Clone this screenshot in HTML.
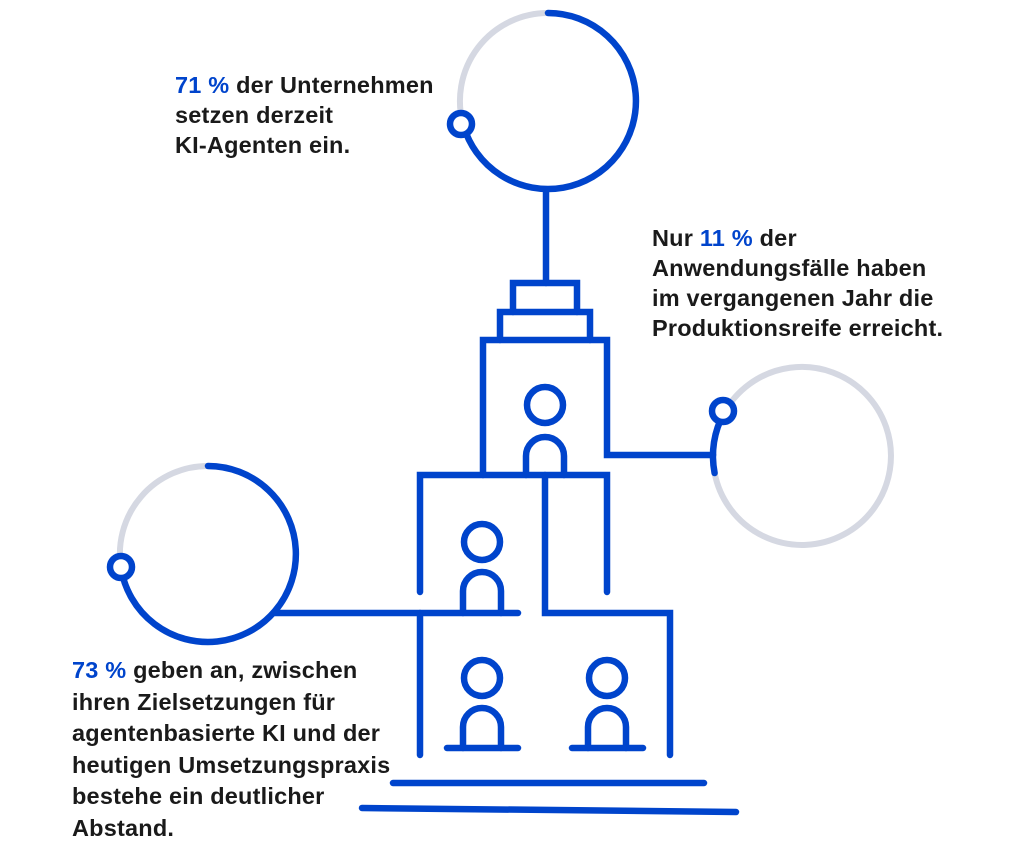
<!DOCTYPE html>
<html><head><meta charset="utf-8"><style>
body{margin:0;background:#fff;width:1024px;height:864px;overflow:hidden;position:relative;font-family:"Liberation Sans",sans-serif;}
.t{position:absolute;font-weight:bold;font-size:23.5px;line-height:30px;color:#1a1a1a;letter-spacing:0.2px;white-space:nowrap;}
.b{color:#0044cc;}
svg{position:absolute;left:0;top:0;}
</style></head><body>
<svg width="1024" height="864" fill="none" stroke-linecap="round" stroke-linejoin="miter">
<g stroke="#d5d8e2" stroke-width="6">
<path d="M463 124 A88 88 0 0 1 548 13"/>
<path d="M121 568 A88 88 0 0 1 208 466"/>
<path d="M724 413 A89 89 0 1 1 714.6 473"/>
</g>
<g stroke="#0044cc" stroke-width="6.5">
<path d="M548 13 A88 88 0 1 1 463 124"/>
<circle cx="461" cy="124" r="11" fill="#fff"/>
<path d="M208 466 A88 88 0 1 1 121 568"/>
<circle cx="121" cy="567" r="11" fill="#fff"/>
<path d="M724 413 A89 89 0 0 0 714.6 473"/>
<circle cx="723" cy="411" r="11" fill="#fff"/>
<line x1="546" y1="190" x2="546" y2="283"/>
<path d="M513 312 V283 H577 V312"/>
<path d="M500 340 V312 H590 V340"/>
<path d="M483 475 V340 H607 V455 H713"/>
<circle cx="545" cy="405" r="18"/>
<path d="M526 475 V456 A19 19 0 0 1 564 456 V475"/>
<path d="M420 592 V475 H607 V592"/>
<path d="M545 475 V613 H670 V755"/>
<line x1="274" y1="613" x2="518" y2="613"/>
<line x1="420" y1="613" x2="420" y2="755"/>
<circle cx="482" cy="542" r="18"/>
<path d="M463 613 V591 A19 19 0 0 1 501 591 V613"/>
<circle cx="482" cy="678" r="18"/>
<path d="M463 748 V727 A19 19 0 0 1 501 727 V748"/>
<line x1="447" y1="748" x2="518" y2="748"/>
<circle cx="607" cy="678" r="18"/>
<path d="M588 748 V727 A19 19 0 0 1 626 727 V748"/>
<line x1="572" y1="748" x2="643" y2="748"/>
<line x1="393" y1="783" x2="704" y2="783"/>
<line x1="362" y1="808" x2="736" y2="812"/>
</g>
</svg>
<div class="t" style="left:175px;top:70px;"><span class="b">71 %</span> der Unternehmen<br>setzen derzeit<br>KI-Agenten ein.</div>
<div class="t" style="left:652px;top:223px;">Nur <span class="b">11 %</span> der<br>Anwendungsfälle haben<br>im vergangenen Jahr die<br>Produktionsreife erreicht.</div>
<div class="t" style="left:72px;top:655px;line-height:31.5px;"><span class="b">73 %</span> geben an, zwischen<br>ihren Zielsetzungen für<br>agentenbasierte KI und der<br>heutigen Umsetzungspraxis<br>bestehe ein deutlicher<br>Abstand.</div>
</body></html>
